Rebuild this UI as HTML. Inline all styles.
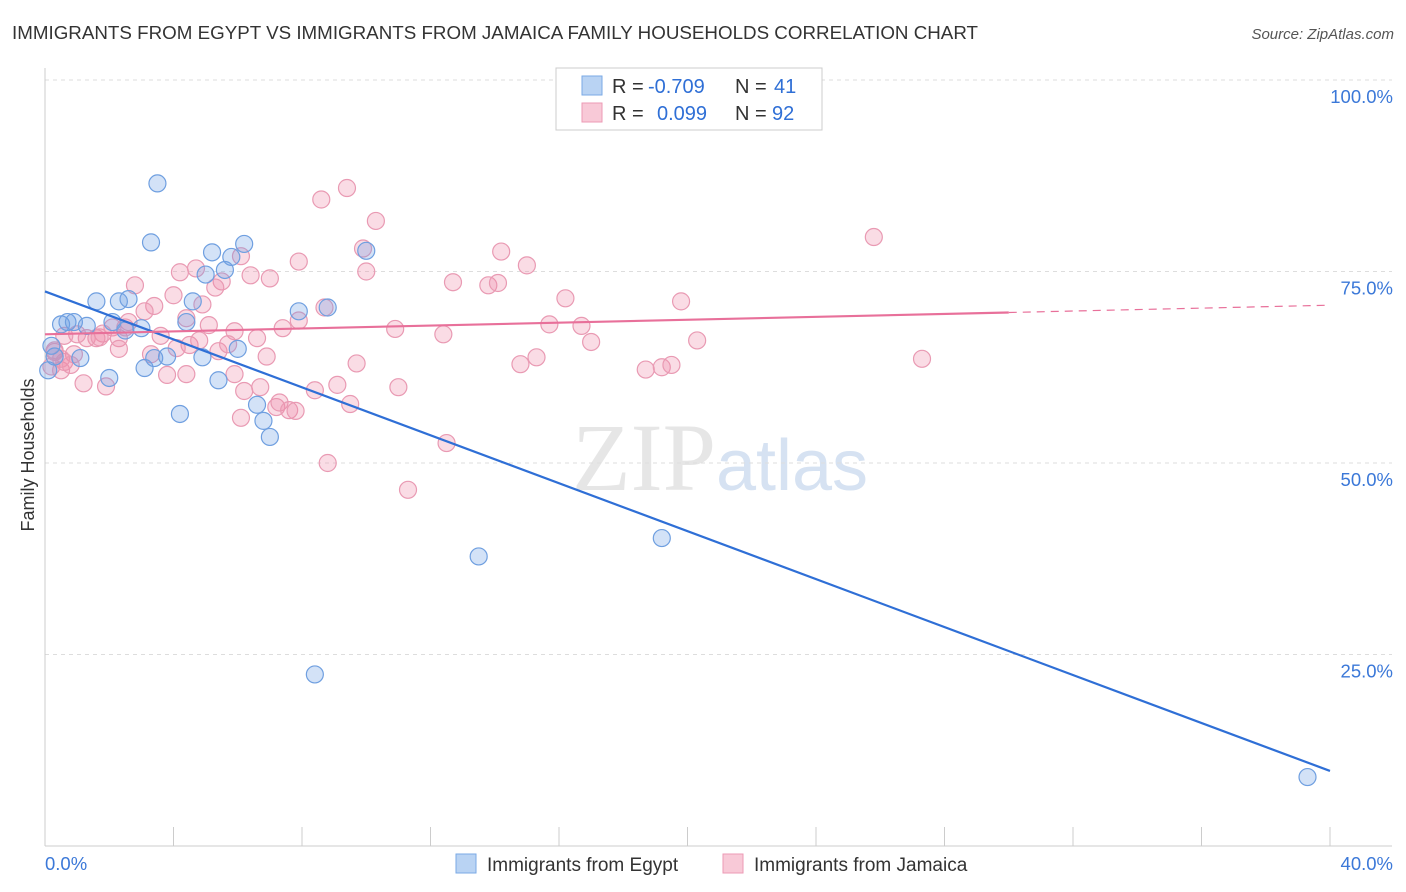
<!DOCTYPE html>
<html><head><meta charset="utf-8"><style>
body{margin:0;background:#fff;font-family:"Liberation Sans",sans-serif;}
svg{display:block}
</style></head><body>
<svg id="chart" width="1406" height="892">
<text x="12" y="39" font-size="18" fill="#333" textLength="966" lengthAdjust="spacingAndGlyphs">IMMIGRANTS FROM EGYPT VS IMMIGRANTS FROM JAMAICA FAMILY HOUSEHOLDS CORRELATION CHART</text>
<text x="1394" y="39" font-size="15" fill="#555" font-style="italic" text-anchor="end">Source: ZipAtlas.com</text>
<text x="720" y="490" font-size="96" fill="#e6e6e6" text-anchor="middle" font-family="Liberation Serif,serif">ZIP<tspan fill="#d6e2f2" font-family="Liberation Sans,sans-serif" font-size="72">atlas</tspan></text>
<g id="grid"></g><g id="axes"></g><g id="pts"></g><g id="lines"></g>
<text transform="translate(34,455) rotate(-90)" font-size="18" fill="#333" text-anchor="middle">Family Households</text>
<g>
<rect x="556" y="68" width="266" height="62" fill="#fff" stroke="#ccc"/>
<rect x="582" y="76" width="20" height="19" fill="#b9d3f3" stroke="#7aa9e6"/>
<text x="612" y="93" font-size="20" fill="#333">R =</text>
<text x="648" y="93" font-size="20" fill="#2f6fd6">-0.709</text>
<text x="735" y="93" font-size="20" fill="#333">N =</text>
<text x="774" y="93" font-size="20" fill="#2f6fd6">41</text>
<rect x="582" y="103" width="20" height="19" fill="#f8c9d7" stroke="#ec9ab4"/>
<text x="612" y="120" font-size="20" fill="#333">R =</text>
<text x="657" y="120" font-size="20" fill="#2f6fd6">0.099</text>
<text x="735" y="120" font-size="20" fill="#333">N =</text>
<text x="772" y="120" font-size="20" fill="#2f6fd6">92</text>
</g>
<g>
<rect x="456" y="854" width="20" height="19" fill="#b9d3f3" stroke="#7aa9e6"/>
<text x="487" y="871" font-size="19" fill="#333">Immigrants from Egypt</text>
<rect x="723" y="854" width="20" height="19" fill="#f8c9d7" stroke="#ec9ab4"/>
<text x="754" y="871" font-size="19" fill="#333">Immigrants from Jamaica</text>
</g>
</svg>
<script>
const yTicks=[25,50,75,100];
const yTickLabels=["25.0%","50.0%","75.0%","100.0%"];
const xTickLabels=["0.0%","40.0%"];
const egyptX=[3.5,3.3,5.2,5.8,6.2,10.0,5.0,5.6,1.6,2.3,2.6,4.6,7.9,8.8,0.5,0.7,0.9,1.3,2.1,2.5,3.0,4.4,0.2,0.3,1.1,3.1,3.4,3.8,4.9,6.0,2.0,5.4,4.2,6.6,6.8,7.0,13.5,19.2,8.4,39.3,0.1];
const egyptY=[86.5,78.8,77.5,76.9,78.6,77.7,74.6,75.2,71.1,71.1,71.4,71.1,69.8,70.3,68.1,68.4,68.4,67.9,68.4,67.3,67.6,68.4,65.3,63.9,63.7,62.4,63.7,63.9,63.8,64.9,61.1,60.8,56.4,57.6,55.5,53.4,37.8,40.2,22.4,9.0,62.1];
const jamX=[9.4,8.6,10.3,25.8,9.9,14.2,15.0,7.9,6.1,10.0,7.0,4.2,4.7,5.5,6.4,5.3,2.8,4.0,4.9,3.4,3.1,12.7,13.8,14.1,16.2,19.8,8.7,7.9,7.4,10.9,12.4,15.7,16.7,17.0,20.3,5.1,5.9,6.6,4.4,2.6,2.1,1.8,2.3,3.6,4.5,1.6,1.3,1.0,0.6,0.3,0.9,0.2,0.5,0.6,2.3,3.3,4.1,5.4,5.7,6.9,9.7,14.8,15.3,18.7,19.2,19.5,27.3,1.2,1.9,3.8,4.4,5.9,6.2,6.7,8.4,9.1,11.0,9.5,7.2,7.3,7.6,7.8,6.1,12.5,8.8,11.3,0.3,0.5,0.8,1.7,2.5,4.8];
const jamY=[85.9,84.4,81.6,79.5,78.0,77.6,75.8,76.3,77.0,75.0,74.1,74.9,75.4,73.7,74.5,72.9,73.2,71.9,70.7,70.5,69.8,73.6,73.2,73.5,71.5,71.1,70.3,68.6,67.6,67.5,66.8,68.1,67.9,65.8,66.0,68.0,67.2,66.3,68.9,68.4,67.7,66.9,66.3,66.6,65.4,66.3,66.3,66.8,66.6,64.5,64.2,62.6,62.1,63.2,64.9,64.2,65.0,64.6,65.5,63.9,63.0,62.9,63.8,62.2,62.5,62.8,63.6,60.4,60.0,61.5,61.6,61.6,59.4,59.9,59.5,60.2,59.9,57.7,57.3,57.9,56.9,56.8,55.9,52.6,50.0,46.5,64.7,63.6,62.8,66.4,67.7,66.0];
const egyptTrend=[72.4,9.8];
const jamTrend=[66.8,70.6];
const jamSolidEnd=30;
const NS="http://www.w3.org/2000/svg";
const X=v=>45+v/40*1285, Y=v=>846-v*7.66;
function mk(tag,parent,attrs){const e=document.createElementNS(NS,tag);for(const k in attrs)e.setAttribute(k,attrs[k]);document.getElementById(parent).appendChild(e);return e;}
yTicks.forEach((t,i)=>{
 const l=mk('line','grid',{x1:45,x2:1392,y1:Y(t),y2:Y(t),stroke:'#ddd','stroke-dasharray':'4,4'});
 
 
 const tx=mk('text','grid',{x:1393,y:Y(t)+23,'font-size':18.5,fill:'#3b78d8','text-anchor':'end'});tx.textContent=yTickLabels[i];
 
 
});
let a=mk('line','axes',{x1:45,x2:45,y1:68,y2:846,stroke:'#ccc'});


a=mk('line','axes',{x1:45,x2:1392,y1:846,y2:846,stroke:'#ccc'});


for(let i=0;i<=10;i++){const t=mk('line','axes',{x1:X(i*4),x2:X(i*4),y1:827,y2:846,stroke:'#ccc'});
 
 }
[[0,'start',45],[40,'end',1393]].forEach((d,i)=>{const t=mk('text','axes',{x:d[2],y:870,'font-size':18.5,fill:'#3b78d8','text-anchor':d[1]});t.textContent=xTickLabels[i];
 
 });
jamX.forEach((x,i)=>{const c=mk('circle','pts',{cx:X(x),cy:Y(jamY[i]),r:8.5,fill:'rgba(240,140,170,0.3)',stroke:'#e99ab3','stroke-width':1.2});
 
 });
egyptX.forEach((x,i)=>{const c=mk('circle','pts',{cx:X(x),cy:Y(egyptY[i]),r:8.5,fill:'rgba(110,160,230,0.3)',stroke:'#6f9fe0','stroke-width':1.2});
 
 });
let l=mk('line','lines',{x1:X(0),y1:Y(egyptTrend[0]),x2:X(40),y2:Y(egyptTrend[1]),stroke:'#2f6fd6','stroke-width':2.2});


const jy=x=>jamTrend[0]+(jamTrend[1]-jamTrend[0])*x/40;
l=mk('line','lines',{x1:X(0),y1:Y(jy(0)),x2:X(jamSolidEnd),y2:Y(jy(jamSolidEnd)),stroke:'#e8709a','stroke-width':2.2});


l=mk('line','lines',{x1:X(jamSolidEnd),y1:Y(jy(jamSolidEnd)),x2:X(40),y2:Y(jy(40)),stroke:'#e8709a','stroke-width':1.2,'stroke-dasharray':'8,6'});


</script>
</body></html>
